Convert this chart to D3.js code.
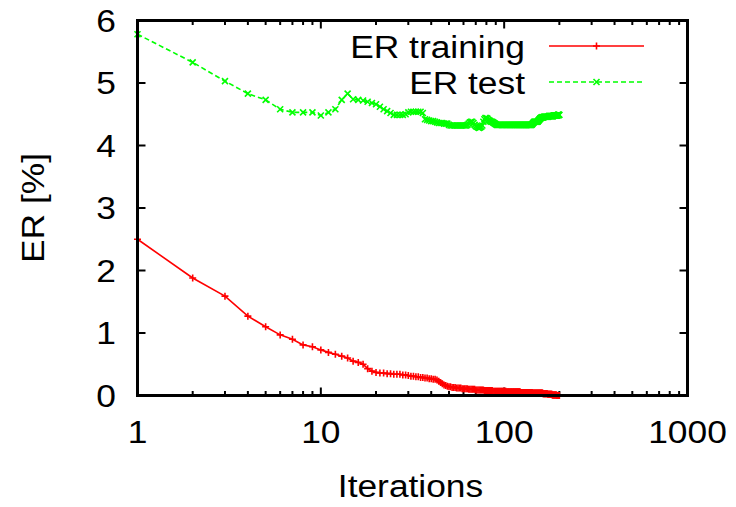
<!DOCTYPE html>
<html>
<head>
<meta charset="utf-8">
<script src="https://cdn.jsdelivr.net/npm/d3@7"></script>
<style>
  html, body { margin: 0; padding: 0; background: #fff; }
  svg { display: block; }
  text { font-family: "Liberation Sans", Arial, sans-serif; fill: #000; }
</style>
</head>
<body>
<svg id="chart" width="736" height="507"></svg>
<script>
// error rate per iteration (iterations 1..200)
const trainER = [
  2.50, 1.88, 1.59, 1.27, 1.10, 0.97, 0.90, 0.81, 0.78, 0.73,
  0.69, 0.66, 0.63, 0.60, 0.55, 0.53, 0.50, 0.43, 0.39, 0.37,
  0.36, 0.36, 0.35, 0.35, 0.34, 0.34, 0.34, 0.33, 0.33, 0.32,
  0.31, 0.31, 0.30, 0.30, 0.29, 0.29, 0.28, 0.28, 0.27, 0.27,
  0.26, 0.26, 0.25, 0.23, 0.21, 0.19, 0.17, 0.16, 0.15, 0.14,
  0.14, 0.13, 0.13, 0.13, 0.12, 0.12, 0.12, 0.12, 0.11, 0.11,
  0.11, 0.11, 0.11, 0.10, 0.10, 0.10, 0.10, 0.10, 0.10, 0.09,
  0.09, 0.09, 0.09, 0.09, 0.09, 0.09, 0.09, 0.08, 0.08, 0.08,
  0.08, 0.08, 0.08, 0.08, 0.08, 0.08, 0.07, 0.07, 0.07, 0.07,
  0.07, 0.07, 0.07, 0.07, 0.07, 0.07, 0.07, 0.07, 0.07, 0.07,
  0.07, 0.07, 0.06, 0.06, 0.06, 0.06, 0.06, 0.06, 0.06, 0.06,
  0.06, 0.06, 0.06, 0.06, 0.06, 0.06, 0.06, 0.06, 0.06, 0.06,
  0.06, 0.06, 0.05, 0.05, 0.05, 0.05, 0.05, 0.05, 0.05, 0.05,
  0.05, 0.05, 0.05, 0.05, 0.05, 0.05, 0.05, 0.05, 0.05, 0.05,
  0.05, 0.05, 0.04, 0.04, 0.04, 0.04, 0.04, 0.04, 0.04, 0.04,
  0.04, 0.04, 0.04, 0.04, 0.04, 0.04, 0.04, 0.04, 0.04, 0.04,
  0.04, 0.04, 0.03, 0.03, 0.03, 0.03, 0.03, 0.03, 0.03, 0.03,
  0.03, 0.03, 0.02, 0.02, 0.02, 0.02, 0.02, 0.02, 0.02, 0.02,
  0.02, 0.02, 0.01, 0.01, 0.01, 0.01, 0.01, 0.01, 0.01, 0.01,
  0.01, 0.01, 0.01, 0.00, 0.00, 0.00, 0.00, 0.00, 0.00, 0.00
];

const testER = [
  5.78, 5.33, 5.03, 4.83, 4.73, 4.58, 4.53, 4.53, 4.53, 4.48,
  4.53, 4.58, 4.73, 4.83, 4.74, 4.73, 4.72, 4.70, 4.68, 4.66,
  4.62, 4.58, 4.55, 4.52, 4.49, 4.49, 4.49, 4.49, 4.50, 4.53,
  4.54, 4.54, 4.54, 4.54, 4.54, 4.52, 4.42, 4.41, 4.40, 4.39,
  4.39, 4.38, 4.37, 4.36, 4.36, 4.36, 4.35, 4.35, 4.35, 4.33,
  4.32, 4.32, 4.32, 4.32, 4.32, 4.32, 4.32, 4.32, 4.32, 4.32,
  4.32, 4.32, 4.33, 4.35, 4.37, 4.38, 4.38, 4.36, 4.33, 4.31,
  4.30, 4.29, 4.28, 4.29, 4.30, 4.32, 4.38, 4.42, 4.44, 4.44,
  4.43, 4.41, 4.40, 4.39, 4.38, 4.38, 4.37, 4.36, 4.35, 4.34,
  4.33, 4.33, 4.33, 4.33, 4.33, 4.33, 4.33, 4.33, 4.33, 4.33,
  4.33, 4.33, 4.33, 4.33, 4.33, 4.33, 4.33, 4.33, 4.33, 4.33,
  4.33, 4.33, 4.33, 4.33, 4.33, 4.33, 4.33, 4.33, 4.33, 4.33,
  4.33, 4.33, 4.33, 4.33, 4.33, 4.33, 4.33, 4.33, 4.33, 4.33,
  4.33, 4.33, 4.33, 4.33, 4.33, 4.33, 4.33, 4.33, 4.33, 4.33,
  4.33, 4.34, 4.35, 4.36, 4.37, 4.38, 4.38, 4.38, 4.38, 4.38,
  4.38, 4.38, 4.39, 4.40, 4.41, 4.42, 4.43, 4.44, 4.44, 4.45,
  4.45, 4.45, 4.45, 4.45, 4.46, 4.46, 4.46, 4.46, 4.46, 4.46,
  4.46, 4.46, 4.46, 4.46, 4.47, 4.47, 4.47, 4.47, 4.47, 4.47,
  4.47, 4.47, 4.47, 4.47, 4.47, 4.48, 4.48, 4.48, 4.48, 4.48,
  4.48, 4.48, 4.48, 4.48, 4.48, 4.49, 4.49, 4.49, 4.49, 4.49
];

const seriesNames = ['ER training', 'ER test'];
const xTicks = [1, 10, 100, 1000];
const yTicks = [0, 1, 2, 3, 4, 5, 6];
const xLabel = 'Iterations';
const yLabel = 'ER [%]';

const svg = d3.select('#chart');

const plotLeft = 137.5, plotRight = 687.5, plotTop = 20.5, plotBottom = 395.5;
const fontSize = 31;
const stretch = 1.14;   // gnuplot text is a bit wider than plain Arial

const xScale = d3.scaleLog()
    .domain([1, 1000])
    .range([plotLeft, plotRight]);

const yScale = d3.scaleLinear()
    .domain([0, 6])
    .range([plotBottom, plotTop]);

const addText = (x, y, str, anchor, angle) => {
    svg.append('text')
        .attr('transform', `translate(${x},${y}) rotate(${angle || 0}) scale(${stretch},1)`)
        .attr('text-anchor', anchor)
        .attr('font-size', fontSize)
        .text(str);
};

// ticks (inward, mirrored like gnuplot)
const majorLen = 8, minorLen = 4.5;
const minorX = [];
for (let d = 1; d < 1000; d *= 10) {
    for (let k = 2; k <= 9; k++) minorX.push(d * k);
}

const tickG = svg.append('g')
    .attr('stroke', '#000')
    .attr('stroke-width', 2);

xTicks.forEach(t => {
    tickG.append('line').attr('x1', xScale(t)).attr('x2', xScale(t)).attr('y1', plotBottom).attr('y2', plotBottom - majorLen);
    tickG.append('line').attr('x1', xScale(t)).attr('x2', xScale(t)).attr('y1', plotTop).attr('y2', plotTop + majorLen);
});
minorX.forEach(t => {
    tickG.append('line').attr('x1', xScale(t)).attr('x2', xScale(t)).attr('y1', plotBottom).attr('y2', plotBottom - minorLen);
    tickG.append('line').attr('x1', xScale(t)).attr('x2', xScale(t)).attr('y1', plotTop).attr('y2', plotTop + minorLen);
});
yTicks.forEach(t => {
    tickG.append('line').attr('x1', plotLeft).attr('x2', plotLeft + majorLen).attr('y1', yScale(t)).attr('y2', yScale(t));
    tickG.append('line').attr('x1', plotRight).attr('x2', plotRight - majorLen).attr('y1', yScale(t)).attr('y2', yScale(t));
});

// tick labels
xTicks.forEach(t => addText(xScale(t), 443, String(t), 'middle'));
yTicks.forEach(t => addText(116, yScale(t) + 11, String(t), 'end'));

// axis titles
addText((plotLeft + plotRight) / 2 - 2, 497, xLabel, 'middle');
addText(43.5, (plotTop + plotBottom) / 2, yLabel, 'middle', -90);

// series
const iters = trainER.map((_, i) => i + 1);
const plusPath = 'M-3.5,0H3.5M0,-3.5V3.5';
const crossPath = 'M-3,-3L3,3M-3,3L3,-3';

const series = [
    {name: seriesNames[0], values: trainER, color: '#ff0000', dash: null, marker: plusPath, legendY: 46},
    {name: seriesNames[1], values: testER, color: '#00ff00', dash: '5,3', marker: crossPath, legendY: 82}
];

const line = d3.line()
    .x(d => xScale(d[0]))
    .y(d => yScale(d[1]));

for (const s of series) {
    const pts = iters.map((it, i) => [it, s.values[i]]);

    svg.append('path')
        .attr('d', line(pts))
        .attr('fill', 'none')
        .attr('stroke', s.color)
        .attr('stroke-width', 1.6)
        .attr('stroke-dasharray', s.dash);

    svg.append('g')
        .selectAll('path')
        .data(pts)
        .join('path')
        .attr('d', s.marker)
        .attr('transform', d => `translate(${xScale(d[0])},${yScale(d[1])})`)
        .attr('fill', 'none')
        .attr('stroke', s.color)
        .attr('stroke-width', 1.6);

    // legend entry
    addText(525, s.legendY + 12, s.name, 'end');
    svg.append('line')
        .attr('x1', 549).attr('x2', 644)
        .attr('y1', s.legendY).attr('y2', s.legendY)
        .attr('stroke', s.color)
        .attr('stroke-width', 1.6)
        .attr('stroke-dasharray', s.dash);
    svg.append('path')
        .attr('d', s.marker)
        .attr('transform', `translate(596.5,${s.legendY})`)
        .attr('fill', 'none')
        .attr('stroke', s.color)
        .attr('stroke-width', 1.6);
}

// border
svg.append('rect')
    .attr('x', plotLeft).attr('y', plotTop)
    .attr('width', plotRight - plotLeft).attr('height', plotBottom - plotTop)
    .attr('fill', 'none')
    .attr('stroke', '#000')
    .attr('stroke-width', 3);
</script>
</body>
</html>
